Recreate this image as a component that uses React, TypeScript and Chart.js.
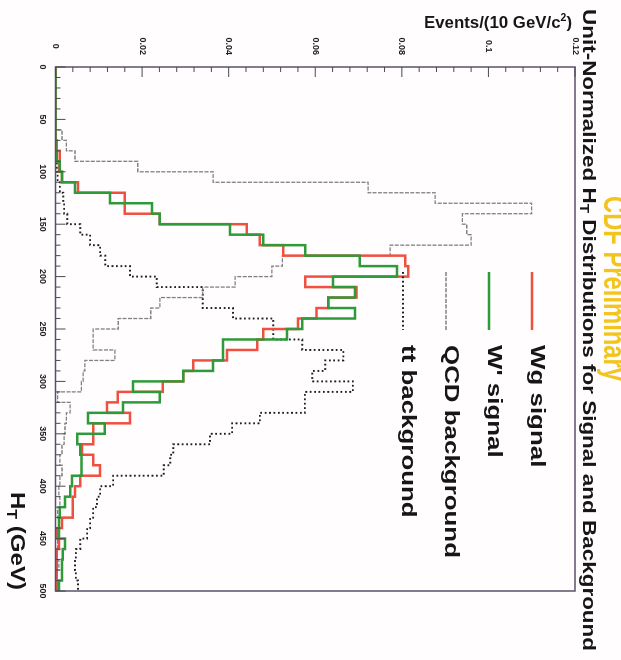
import React, { useEffect, useRef } from "react";
import { Chart, registerables } from "chart.js";

Chart.register(...registerables);

// ---- Data (unit-normalized H_T histograms, 10 GeV bins from 0 to 500 GeV) ----
const HT_MIN = 0;
const BIN_WIDTH = 10;

const wgSignal = [
  0, 0, 0, 0, 0, 0, 0, 0.0003, 0.001, 0.0008,
  0.0015, 0.0052, 0.016, 0.016, 0.0241, 0.0442, 0.0472, 0.0526, 0.0808, 0.0815,
  0.0577, 0.0695, 0.063, 0.0603, 0.056, 0.048, 0.0466, 0.0396, 0.0318, 0.0295,
  0.0248, 0.0144, 0.0119, 0.0172, 0.0087, 0.0087, 0.0061, 0.0087, 0.0103, 0.0057,
  0.0045, 0.004, 0.004, 0.0015, 0.0003, 0.0008, 0.0003, 0.0003, 0.0003, 0.0003,
];

const wprimeSignal = [
  0, 0, 0, 0, 0, 0, 0, 0, 0.0003, 0.001,
  0.0015, 0.0045, 0.0126, 0.0223, 0.0241, 0.0403, 0.048, 0.0577, 0.0703, 0.0789,
  0.0641, 0.0692, 0.063, 0.0692, 0.057, 0.0535, 0.0387, 0.0387, 0.0364, 0.0295,
  0.0179, 0.0241, 0.0156, 0.0075, 0.0114, 0.005, 0.0057, 0.006, 0.006, 0.0038,
  0.0034, 0.0022, 0.001, 0.0008, 0.0008, 0.0022, 0.0017, 0.0015, 0.0015, 0.0008,
];

const qcdBackground = [
  0, 0, 0, 0, 0, 0, 0.0015, 0.0025, 0.0045, 0.019,
  0.0364, 0.0722, 0.0877, 0.11, 0.094, 0.095, 0.096, 0.0773, 0.0524, 0.05,
  0.0415, 0.034, 0.0241, 0.022, 0.0145, 0.0087, 0.0087, 0.0137, 0.0068, 0.0064,
  0.006, 0.0005, 0.0034, 0.0025, 0.0022, 0.002, 0.0015, 0.001, 0.0015, 0.001,
  0.0008, 0.001, 0.0005, 0.0008, 0.0005, 0.0005, 0.0003, 0.0008, 0.0003, 0.0003,
];

const ttBackground = [
  0, 0, 0, 0, 0, 0, 0, 0, 0, 0.0003,
  0.0005, 0.001, 0.0018, 0.002, 0.0027, 0.0057, 0.008, 0.0103, 0.0115, 0.0172,
  0.0234, 0.034, 0.034, 0.041, 0.0503, 0.0503, 0.057, 0.0665, 0.0623, 0.0593,
  0.0687, 0.0576, 0.0576, 0.0472, 0.0408, 0.0357, 0.0272, 0.0265, 0.025, 0.0133,
  0.0103, 0.0096, 0.0087, 0.008, 0.0073, 0.0057, 0.0047, 0.0045, 0.0047, 0.0052,
];

const htTicks = [0, 50, 100, 150, 200, 250, 300, 350, 400, 450, 500];
const valueTicks = [0, 0.02, 0.04, 0.06, 0.08, 0.1, 0.12];
const legendLabels = ["Wg signal", "W' signal", "QCD background", "tt background"];

// ---- Styles ----
const FONT = "'Liberation Sans', Arial, 'DejaVu Sans', sans-serif";
const RED = "#f0503f";
const GREEN = "#2f9a3a";
const GRAY = "#808080";
const BLACK = "#1e1e1e";
const FRAME = "#5d4f6c";

const toSteps = (vals: number[]) => {
  const pts = vals.map((v, i) => ({ x: HT_MIN + i * BIN_WIDTH, y: v }));
  pts.push({ x: HT_MIN + vals.length * BIN_WIDTH, y: vals[vals.length - 1] });
  return pts;
};

type Part = { text: string; size: number; dy?: number };

function drawParts(ctx: CanvasRenderingContext2D, parts: Part[], x: number, y: number, targetWidth?: number, scaleOverride?: number) {
  const widths = parts.map((p) => {
    ctx.font = `bold ${p.size}px ${FONT}`;
    return ctx.measureText(p.text).width;
  });
  const total = widths.reduce((a, b) => a + b, 0);
  const sx = scaleOverride ?? (targetWidth ? targetWidth / total : 1);
  ctx.save();
  ctx.translate(x, y);
  ctx.scale(sx, 1);
  ctx.textAlign = "left";
  ctx.textBaseline = "alphabetic";
  let cx = 0;
  parts.forEach((p, i) => {
    ctx.font = `bold ${p.size}px ${FONT}`;
    ctx.fillText(p.text, cx, p.dy || 0);
    cx += widths[i];
  });
  ctx.restore();
}

const seriesStyles = [
  { color: RED, width: 2.5, dash: [] as number[] },
  { color: GREEN, width: 2.5, dash: [] as number[] },
  { color: GRAY, width: 1.3, dash: [4, 1.4] },
  { color: BLACK, width: 1.9, dash: [1.8, 2.6] },
];

const decorPlugin = {
  id: "decor",
  beforeDraw(chart: any) {
    const { ctx, width, height } = chart;
    ctx.save();
    ctx.fillStyle = "#fffdfd";
    ctx.fillRect(0, 0, width, height);
    ctx.restore();
  },
  afterDraw(chart: any) {
    const { ctx, chartArea: ca } = chart;
    const xs = chart.scales.x;
    const ys = chart.scales.y;
    ctx.save();

    // frame
    ctx.strokeStyle = FRAME;
    ctx.lineWidth = 1.5;
    ctx.strokeRect(ca.left, ca.top, ca.right - ca.left, ca.bottom - ca.top);

    // inward ticks
    ctx.strokeStyle = "#4a4a4a";
    ctx.lineWidth = 1;
    const vMax = valueTicks[valueTicks.length - 1];
    const vStep = valueTicks[1] - valueTicks[0];
    const nMinor = Math.round(vMax / (vStep / 5));
    for (let k = 0; k <= nMinor; k++) {
      const py = ys.getPixelForValue((k * vStep) / 5);
      const len = k % 5 === 0 ? 10 : 5;
      ctx.beginPath();
      ctx.moveTo(ca.left, py);
      ctx.lineTo(ca.left + len, py);
      ctx.stroke();
    }
    const hMax = htTicks[htTicks.length - 1];
    for (let h = HT_MIN; h <= hMax; h += BIN_WIDTH) {
      const px = xs.getPixelForValue(h);
      const len = h % 50 === 0 ? 10 : 5;
      ctx.beginPath();
      ctx.moveTo(px, ca.bottom);
      ctx.lineTo(px, ca.bottom - len);
      ctx.stroke();
    }

    ctx.fillStyle = "#161616";
    // main title
    drawParts(
      ctx,
      [
        { text: "Unit-Normalized H", size: 19 },
        { text: "T", size: 13, dy: 3 },
        { text: " Distributions for Signal and Background", size: 19 },
      ],
      9,
      38,
      642
    );

    // y-axis title (rotated)
    ctx.save();
    ctx.translate(28, 197);
    ctx.rotate(-Math.PI / 2);
    drawParts(
      ctx,
      [
        { text: "Events/(10 GeV/c", size: 16 },
        { text: "2", size: 10, dy: -7 },
        { text: ")", size: 16 },
      ],
      0,
      0,
      148
    );
    ctx.restore();

    // x-axis title
    drawParts(
      ctx,
      [
        { text: "H", size: 21 },
        { text: "T", size: 14, dy: 4 },
        { text: " (GeV)", size: 21 },
      ],
      492,
      610,
      98
    );

    // legend
    const legendV = [89, 132, 175, 218];
    ctx.font = `bold 20px ${FONT}`;
    const refW = ctx.measureText(legendLabels[2]).width;
    const legendScale = 213 / refW;
    legendLabels.forEach((lab, i) => {
      const st = seriesStyles[i];
      ctx.save();
      ctx.strokeStyle = st.color;
      ctx.lineWidth = st.width;
      ctx.setLineDash(st.dash);
      ctx.beginPath();
      ctx.moveTo(272, legendV[i]);
      ctx.lineTo(330, legendV[i]);
      ctx.stroke();
      ctx.restore();
      ctx.fillStyle = "#161616";
      drawParts(ctx, [{ text: lab, size: 20 }], 345, legendV[i] + 1, undefined, legendScale);
    });

    // partially visible stamp (cut off by the page edge)
    ctx.fillStyle = "#f3c41c";
    drawParts(ctx, [{ text: "CDF Preliminary", size: 32 }], 196, 17, 185);

    ctx.restore();
  },
};

export default function App() {
  const canvasRef = useRef<HTMLCanvasElement>(null);

  useEffect(() => {
    if (!canvasRef.current) return;
    const series = [wgSignal, wprimeSignal, qcdBackground, ttBackground];
    const orders = [1, 0, 2, 3];
    const chart = new Chart(canvasRef.current, {
      type: "line",
      data: {
        datasets: series.map((vals, i) => ({
          label: legendLabels[i],
          data: toSteps(vals),
          borderColor: seriesStyles[i].color,
          borderWidth: seriesStyles[i].width,
          borderDash: seriesStyles[i].dash,
          stepped: "before" as const,
          pointRadius: 0,
          fill: false,
          order: orders[i],
        })),
      },
      options: {
        animation: false,
        responsive: false,
        maintainAspectRatio: false,
        layout: { padding: { left: 0, right: 69, top: 46, bottom: 0 } },
        plugins: {
          legend: { display: false },
          tooltip: { enabled: false },
          title: { display: false },
        },
        scales: {
          x: {
            type: "linear",
            min: HT_MIN,
            max: htTicks[htTicks.length - 1],
            grid: { display: false, drawTicks: false },
            border: { display: false },
            afterBuildTicks: (scale: any) => {
              scale.ticks = htTicks.map((v) => ({ value: v }));
            },
            ticks: {
              autoSkip: false,
              maxRotation: 0,
              padding: 8,
              color: "#222",
              font: { family: FONT, size: 9, weight: "bold" },
              callback: (v: any) => String(v),
            },
            afterFit: (scale: any) => {
              scale.height = 55.5;
            },
          },
          y: {
            type: "linear",
            min: valueTicks[0],
            max: valueTicks[valueTicks.length - 1],
            grid: { display: false, drawTicks: false },
            border: { display: false },
            afterBuildTicks: (scale: any) => {
              scale.ticks = valueTicks.map((v) => ({ value: v }));
            },
            ticks: {
              autoSkip: false,
              crossAlign: "center",
              padding: 12,
              color: "#222",
              font: { family: FONT, size: 9, weight: "bold" },
              callback: (v: any) => String(Number(Number(v).toFixed(2))),
            },
            afterFit: (scale: any) => {
              scale.width = 67;
            },
          },
        },
      } as any,
      plugins: [decorPlugin],
    });
    return () => chart.destroy();
  }, []);

  return (
    <div
      style={{
        position: "absolute",
        left: 0,
        top: 0,
        width: 621,
        height: 660,
        overflow: "hidden",
        background: "#fffdfd",
      }}
    >
      <div
        style={{
          position: "absolute",
          left: 0,
          top: 0,
          width: 660,
          height: 621,
          transform: "translate(621px, 0px) rotate(90deg)",
          transformOrigin: "0 0",
        }}
      >
        <canvas ref={canvasRef} width={660} height={621} style={{ display: "block", width: 660, height: 621 }} />
      </div>
    </div>
  );
}
